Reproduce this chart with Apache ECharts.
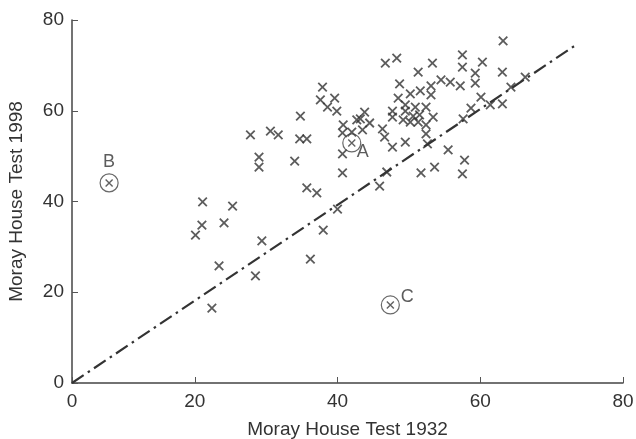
<!DOCTYPE html>
<html>
<head>
<meta charset="utf-8">
<script src="https://cdn.jsdelivr.net/npm/echarts@6/dist/echarts.min.js"></script>
<style>
  html, body { margin: 0; padding: 0; background: #fff; }
  #main { width: 636px; height: 439px; }
</style>
</head>
<body>
<div id="main"></div>
<script>
// scores (1932 test, 1998 test)
var test1932 = [21.1, 25.3, 21.0, 24.1, 20.1, 29.4, 23.4, 28.5, 22.4, 36.2, 38.0, 40.0, 35.7, 37.1,
  37.9, 37.6, 39.6, 38.6, 39.9, 34.8, 27.8, 30.6, 31.7, 34.7, 35.7, 40.8, 40.7, 42.0, 40.7, 40.7,
  29.0, 29.0, 34.0, 42.7, 43.8, 43.2, 44.5, 43.5, 46.3, 46.6, 47.7, 49.5, 46.7, 48.3, 53.3, 51.3,
  48.7, 50.2, 51.6, 53.1, 53.1, 48.5, 49.5, 50.9, 52.4, 47.7, 49.5, 47.7, 50.6, 51.5, 49.2, 50.2,
  51.3, 52.4, 52.4, 52.6, 46.9, 51.7, 53.6, 45.9, 63.2, 57.5, 60.3, 57.5, 63.1, 59.3, 59.3, 54.5,
  55.8, 57.2, 60.1, 61.4, 63.1, 58.7, 64.3, 66.3, 53.4, 57.6, 55.5, 57.8, 57.5];
var test1998 = [39.9, 39.0, 34.8, 35.3, 32.6, 31.3, 25.8, 23.6, 16.5, 27.3, 33.7, 38.3, 43.0, 41.9,
  65.2, 62.4, 62.8, 60.8, 59.9, 58.8, 54.7, 55.5, 54.7, 53.8, 53.8, 56.9, 55.1, 55.3, 50.5, 46.3,
  49.8, 47.6, 48.9, 58.0, 59.7, 58.2, 57.3, 55.8, 56.0, 54.2, 52.0, 53.1, 70.5, 71.6, 70.5, 68.5,
  65.9, 63.7, 64.4, 65.5, 63.5, 62.8, 61.3, 60.8, 60.8, 59.9, 59.9, 58.6, 58.8, 59.1, 58.0, 57.5,
  57.5, 56.9, 54.9, 52.7, 46.5, 46.3, 47.6, 43.4, 75.4, 72.3, 70.7, 69.6, 68.5, 68.3, 66.1, 66.8,
  66.3, 65.5, 63.0, 61.3, 61.5, 60.6, 65.2, 67.4, 58.6, 58.2, 51.4, 49.1, 46.1];

// the three marked cases
var markedNames = ['A', 'B', 'C'];
var marked1932 = [42.0, 8.0, 47.4];
var marked1998 = [52.9, 44.1, 17.2];

// dash-dot reference line
var line1932 = [2.8, 73.4];
var line1998 = [0, 74.5];

// axis ticks (the 1932 axis starts a little after zero in the original)
var xTicks = [2.8, 20, 40, 60, 80];
var yTicks = [0, 20, 40, 60, 80];

var cross = 'path://M0,0L10,10M0,10L10,0';
var font = 'Liberation Sans';

var crossData = test1932.map(function (v, i) { return [v, test1998[i]]; });
var markedData = marked1932.map(function (v, i) { return { value: [v, marked1998[i]], name: markedNames[i] }; });
var lineData = line1932.map(function (v, i) { return [v, line1998[i]]; });

var labelPos = { A: [11, 9], B: [0, -21], C: [17, -8] };

var chart = echarts.init(document.getElementById('main'));
chart.setOption({
  animation: false,
  grid: { left: 72, right: 13, top: 20, bottom: 56, containLabel: false, outerBoundsMode: 'none' },
  xAxis: {
    type: 'value', min: xTicks[0], max: 80,
    name: 'Moray House Test 1932', nameLocation: 'middle', nameGap: 37,
    nameTextStyle: { fontFamily: font, fontSize: 19, color: '#333' },
    axisLine: { lineStyle: { color: '#444', width: 1.5 } },
    axisTick: { inside: true, length: 6, customValues: xTicks, lineStyle: { color: '#555' } },
    axisLabel: {
      customValues: xTicks, margin: 9, fontFamily: font, fontSize: 19, color: '#333',
      formatter: function (v) { return v < 5 ? '0' : String(v); }
    },
    splitLine: { show: false }
  },
  yAxis: {
    type: 'value', min: yTicks[0], max: yTicks[yTicks.length - 1], interval: 20,
    name: 'Moray House Test 1998', nameLocation: 'middle', nameGap: 46,
    nameTextStyle: { fontFamily: font, fontSize: 19, color: '#333' },
    axisLine: { show: true, lineStyle: { color: '#444', width: 1.5 } },
    axisTick: { show: true, inside: true, length: 6, lineStyle: { color: '#555' } },
    axisLabel: { margin: 8, fontFamily: font, fontSize: 19, color: '#333' },
    splitLine: { show: false }
  },
  series: [
    {
      type: 'line', data: lineData, symbol: 'none', silent: true,
      lineStyle: { color: '#333', width: 2.2, type: [14, 5, 2.5, 5] }
    },
    {
      type: 'scatter', data: crossData, symbol: cross, symbolSize: 8.5,
      itemStyle: { color: 'transparent', borderColor: '#333', borderWidth: 1.8 }
    },
    {
      type: 'scatter', data: markedData, symbol: cross, symbolSize: 7,
      itemStyle: { color: 'transparent', borderColor: '#3a3a3a', borderWidth: 1.4 }
    },
    {
      type: 'scatter', data: markedData, symbol: 'circle', symbolSize: 18,
      itemStyle: { color: 'transparent', borderColor: '#444', borderWidth: 1.2 },
      label: {
        show: true, position: 'inside', fontFamily: font, fontSize: 18, color: '#333',
        formatter: function (p) { return p.name; }
      },
      labelLayout: function (p) {
        var n = markedNames[p.dataIndex];
        return { dx: labelPos[n][0], dy: labelPos[n][1] };
      }
    }
  ]
});
</script>
</body>
</html>
